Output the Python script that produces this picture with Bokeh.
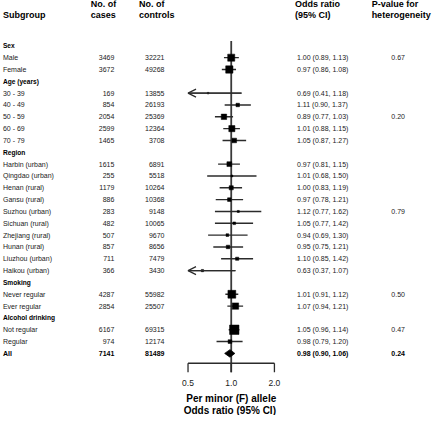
import math
from bokeh.plotting import figure
from bokeh.models import ColumnDataSource, Range1d, LogScale, Arrow, OpenHead
from bokeh.core.properties import value
from bokeh.embed import file_html
from bokeh.resources import INLINE

# ---------------- data ----------------
labels = ["Sex", " Male", "Female",
          "Age (years)", "30 - 39", "40 - 49", "50 - 59", "60 - 69", "70 - 79",
          "Region", "Harbin (urban)", "Qingdao (urban)", "Henan (rural)", "Gansu (rural)",
          "Suzhou (urban)", "Sichuan (rural)", "Zhejiang (rural)", "Hunan (rural)",
          "Liuzhou (urban)", "Haikou (urban)",
          "Smoking", "Never regular", "Ever regular",
          "Alcohol drinking", "Not regular", "Regular",
          "All"]
cases = [None, 3469, 3672,
         None, 169, 854, 2054, 2599, 1465,
         None, 1615, 255, 1179, 886, 283, 482, 507, 857, 711, 366,
         None, 4287, 2854,
         None, 6167, 974,
         7141]
controls = [None, 32221, 49268,
            None, 13855, 26193, 25369, 12364, 3708,
            None, 6891, 5518, 10264, 10368, 9148, 10065, 9670, 8656, 7479, 3430,
            None, 55982, 25507,
            None, 69315, 12174,
            81489]
or_est = [None, 1.00, 0.97,
          None, 0.69, 1.11, 0.89, 1.01, 1.05,
          None, 0.97, 1.01, 1.00, 0.97, 1.12, 1.05, 0.94, 0.95, 1.10, 0.63,
          None, 1.01, 1.07,
          None, 1.05, 0.98,
          0.98]
or_lo = [None, 0.89, 0.86,
         None, 0.41, 0.90, 0.77, 0.88, 0.87,
         None, 0.81, 0.68, 0.83, 0.78, 0.77, 0.77, 0.69, 0.75, 0.85, 0.37,
         None, 0.91, 0.94,
         None, 0.96, 0.79,
         0.90]
or_hi = [None, 1.13, 1.08,
         None, 1.18, 1.37, 1.03, 1.15, 1.27,
         None, 1.15, 1.50, 1.19, 1.21, 1.62, 1.42, 1.30, 1.21, 1.42, 1.07,
         None, 1.12, 1.21,
         None, 1.14, 1.20,
         1.06]
p_het = ["", "0.67", "",
         "", "", "", "0.20", "", "",
         "", "", "", "", "", "0.79", "", "", "", "", "",
         "", "0.50", "",
         "", "0.47", "",
         "0.24"]
tick_values = [0.5, 1.0, 2.0]
tick_labels = ["0.5", "1.0", "2.0"]
axis_min = 0.5

# ---------------- layout constants ----------------
FONT = value("Liberation Sans")
TXT = "#1a1a1a"
LINE = "#2b2b2b"
row_top, row_step = 47, 12
px_one, px_per_doubling = 235.0, 44.0
ref_w = 440

n = len(labels)
ys = [row_top + row_step * i for i in range(n)]
is_section = [c is None for c in cases]
is_total = [lab == "All" for lab in labels]

p = figure(width=432, height=415,
           x_range=Range1d(0, ref_w), y_range=Range1d(422, 1),
           output_backend="svg", toolbar_location=None,
           x_axis_location=None, y_axis_location=None,
           min_border=0, outline_line_color=None)
p.grid.visible = False
p.extra_x_ranges = {"or": Range1d(2 ** ((0 - px_one) / px_per_doubling),
                                  2 ** ((ref_w - px_one) / px_per_doubling))}
p.extra_x_scales = {"or": LogScale()}

# ---------------- headers ----------------
hdr = dict(text_font=FONT, text_font_size="9px", text_font_style="bold",
           text_color="black", text_baseline="middle", text_align="left")
p.text(x=[2.5], y=[16], text=["Subgroup"], **hdr)
p.text(x=[92, 92], y=[5, 16], text=["No. of", "cases"], **hdr)
p.text(x=[141, 141], y=[5, 16], text=["No. of", "controls"], **hdr)
p.text(x=[300, 300], y=[5, 16], text=["Odds ratio", "(95% CI)"], **hdr)
p.text(x=[378, 378], y=[5, 16], text=["P-value for", "heterogeneity"], **hdr)

# ---------------- table text ----------------
sec = ColumnDataSource(dict(x=[2.5] * sum(is_section),
                            y=[y for y, s in zip(ys, is_section) if s],
                            t=[l for l, s in zip(labels, is_section) if s]))
p.text(x="x", y="y", text="t", source=sec, text_font=FONT, text_font_size="6.6px",
       text_font_style="bold", text_color="black", text_baseline="middle")

for bold in (False, True):
    idx = [i for i in range(n) if not is_section[i] and is_total[i] == bold]
    style = dict(text_font=FONT, text_font_size="7px",
                 text_font_style="bold" if bold else "normal",
                 text_color="black" if bold else TXT, text_baseline="middle")
    yy = [ys[i] for i in idx]
    p.text(x=[2.5] * len(idx), y=yy, text=[labels[i] for i in idx], text_align="left", **style)
    p.text(x=[116] * len(idx), y=yy, text=[str(cases[i]) for i in idx], text_align="right", **style)
    p.text(x=[167] * len(idx), y=yy, text=[str(controls[i]) for i in idx], text_align="right", **style)
    p.text(x=[302] * len(idx), y=yy,
           text=[f"{or_est[i]:.2f} ({or_lo[i]:.2f}, {or_hi[i]:.2f})" for i in idx],
           text_align="left", **style)
    pi = [i for i in idx if p_het[i]]
    p.text(x=[405] * len(pi), y=[ys[i] for i in pi], text=[p_het[i] for i in pi],
           text_align="center", **style)

# ---------------- forest ----------------
plot_idx = [i for i in range(n) if not is_section[i] and not is_total[i]]
src = ColumnDataSource(dict(
    y=[ys[i] for i in plot_idx],
    est=[or_est[i] for i in plot_idx],
    lo=[max(or_lo[i], axis_min) for i in plot_idx],
    hi=[or_hi[i] for i in plot_idx],
    size=[max(1.5, 0.12 * math.sqrt(cases[i])) for i in plot_idx],
))

# reference line at OR = 1
p.segment(x0=[1.0], x1=[1.0], y0=[42], y1=[378], x_range_name="or",
          line_color="#3a3a3a", line_width=1.8)

p.segment(x0="lo", x1="hi", y0="y", y1="y", source=src, x_range_name="or",
          line_color=LINE, line_width=1.4)
p.scatter(x="est", y="y", size="size", marker="square", source=src, x_range_name="or",
          fill_color="black", line_color="black", line_width=0.5)

# arrows for truncated intervals
arr_idx = [i for i in plot_idx if or_lo[i] < axis_min]
arr_src = ColumnDataSource(dict(x0=[or_hi[i] for i in arr_idx],
                                x1=[axis_min] * len(arr_idx),
                                y=[ys[i] for i in arr_idx]))
p.add_layout(Arrow(end=OpenHead(size=8, line_color=LINE, line_width=1.2),
                   x_start="x0", y_start="y", x_end="x1", y_end="y",
                   source=arr_src, x_range_name="or",
                   line_color=LINE, line_width=1.4))

# diamond for overall estimate
for i in range(n):
    if is_total[i]:
        y = ys[i]
        p.patch(x=[or_lo[i], or_est[i], or_hi[i], or_est[i]],
                y=[y, y - 3.8, y, y + 3.8], x_range_name="or",
                fill_color="black", line_color="black", line_width=0.8)

# ---------------- custom axis ----------------
ax_y, tick_len = 369, 9
p.segment(x0=[tick_values[0]], x1=[tick_values[-1]], y0=[ax_y], y1=[ax_y],
          x_range_name="or", line_color=LINE, line_width=1.3)
p.segment(x0=tick_values, x1=tick_values, y0=[ax_y] * len(tick_values),
          y1=[ax_y + tick_len] * len(tick_values),
          x_range_name="or", line_color=LINE, line_width=1.3)
p.text(x=tick_values, y=[389] * len(tick_values), text=tick_labels, x_range_name="or",
       text_font=FONT, text_font_size="8.5px", text_color=TXT,
       text_align="center", text_baseline="middle")
p.text(x=[1.0, 1.0], y=[405, 417], text=["Per minor (F) allele", "Odds ratio  (95% CI)"],
       x_range_name="or", text_font=FONT, text_font_size="10px", text_font_style="bold",
       text_color="black", text_align="center", text_baseline="middle")

open("out.html", "w").write(file_html(p, INLINE))
